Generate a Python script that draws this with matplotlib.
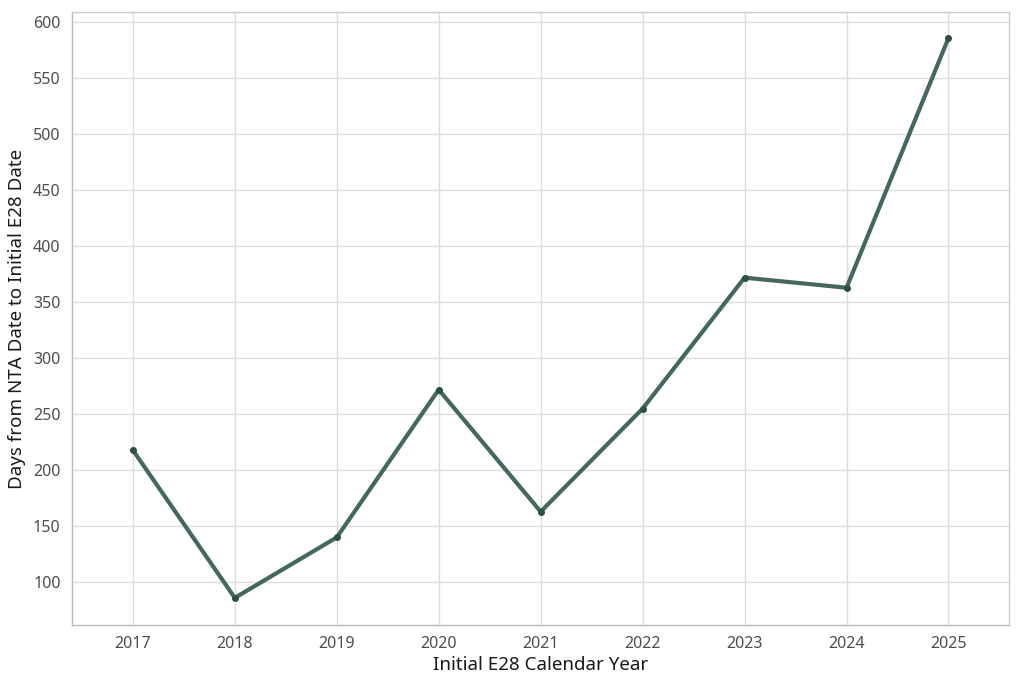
import matplotlib.pyplot as plt
import matplotlib

matplotlib.rcParams['font.family'] = ['Noto Sans', 'DejaVu Sans']

years = [2017, 2018, 2019, 2020, 2021, 2022, 2023, 2024, 2025]
days = [218, 86, 140, 272, 163, 255, 372, 363, 586]

fig, ax = plt.subplots(figsize=(10.24, 6.84), dpi=100)
fig.subplots_adjust(left=0.07, right=0.985, top=0.982, bottom=0.086)

ax.plot(years, days, color='#44695c', linewidth=3, zorder=3)
ax.scatter(years, days, color='#2b4f42', s=16, zorder=4)

ax.set_xlim(2016.4, 2025.59)
ax.set_ylim(61.6, 609)
ax.set_xticks(years)
ax.set_yticks(range(100, 601, 50))
ax.grid(True, color='#dddddd', linewidth=1)
ax.set_axisbelow(True)
ax.tick_params(length=0, labelsize=11.5, labelcolor='#4d4d4d', pad=8)

for s in ['top', 'right']:
    ax.spines[s].set_color('#cccccc')
for s in ['left', 'bottom']:
    ax.spines[s].set_color('#bbbbbb')
for s in ax.spines.values():
    s.set_linewidth(1)

ax.set_xlabel('Initial E28 Calendar Year', fontsize=13.5, color='#1a1a1a', labelpad=3)
ax.set_ylabel('Days from NTA Date to Initial E28 Date', fontsize=13.5, color='#1a1a1a', labelpad=5)

plt.savefig('out.png', dpi=100)
